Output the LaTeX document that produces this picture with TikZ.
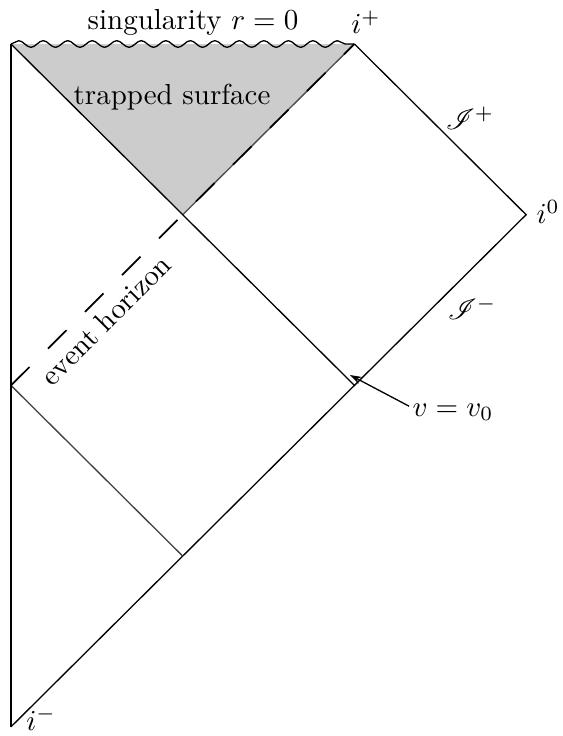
\documentclass[tikz,border=0pt]{standalone}
\usepackage{amsmath}
\usepackage{mathrsfs}
\usetikzlibrary{decorations.pathmorphing,arrows.meta}
\begin{document}
\begin{tikzpicture}[x=59.24pt,y=58.89pt,
  edge/.style={line width=0.45pt},
  axisline/.style={line width=0.9pt},
  shell/.style={line width=0.45pt,black!75},
  horizon/.style={line width=0.6pt,dash pattern=on 9pt off 9pt},
  wavy/.style={line width=0.45pt,decorate,decoration={snake,segment length=8.46pt,amplitude=1.15pt}},
  lab/.style={inner sep=1pt}]
\useasboundingbox (-0.0641,-0.0539) rectangle (3.2091,4.2578);
\coordinate (D) at (0,0);
\coordinate (H) at (1,1);
\coordinate (G) at (0,2);
\coordinate (F) at (2,2);
\coordinate (C) at (3,3);
\coordinate (E) at (1,3);
\coordinate (A) at (0,4);
\coordinate (B) at (2,4);
% trapped region
\fill[black!20] (A) -- (B) -- (E) -- cycle;
\draw[edge,black!70] (E) -- (B);
% lines
\draw[edge] (A) -- (F);
\draw[edge] (B) -- (C) -- (D);
\draw[shell] (G) -- (H);
\draw[horizon] (G) -- (B);
\draw[axisline] (A) -- (D);
\draw[wavy] (A) -- (B);
% labels
\node[lab] (sing) at (1.06,4.125) {singularity $r=0$};
\node[lab] (ip) at (2.067,4.129) {$i^+$};
\node[lab] (trap) at (0.938,3.69) {trapped surface};
\node[lab] (scrp) at (2.673,3.566) {$\mathscr{I}^+$};
\node[lab] (izero) at (3.128,3.016) {$i^0$};
\node[lab] (scrm) at (2.685,2.453) {$\mathscr{I}^-$};
\node[lab] (vlab) at (2.574,1.844) {$v=v_0$};
\node[lab,rotate=45] (eh) at (0.553,2.383) {event horizon};
\node[lab] (im) at (0.175,0.046) {$i^-$};
\coordinate (vtip) at (1.974,2.061);
\draw[edge,-{Stealth[length=4pt,width=2.6pt]}] ([yshift=2pt]vlab.west) -- (vtip);
\end{tikzpicture}
\end{document}
